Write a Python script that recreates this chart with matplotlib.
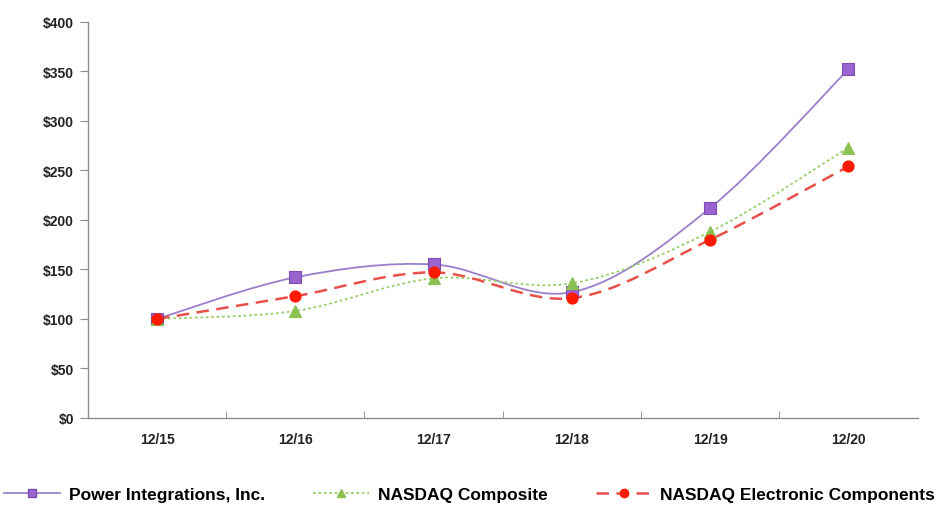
import matplotlib
matplotlib.use("Agg")
import matplotlib.pyplot as plt
from matplotlib.path import Path
from matplotlib.patches import PathPatch
from matplotlib.lines import Line2D
from matplotlib.ticker import MultipleLocator, FuncFormatter

# data
years = ["12/15", "12/16", "12/17", "12/18", "12/19", "12/20"]
power_integrations = [100, 142, 155, 127, 212, 352]
nasdaq_composite = [100, 108, 141, 136, 188, 273]
nasdaq_electronic = [100, 123, 147, 121, 180, 254]

plt.rcParams["font.family"] = ["Liberation Sans Narrow", "Liberation Sans", "DejaVu Sans"]


def smooth_path(xs, ys):
    """Excel-like smoothed line as cubic Bezier segments."""
    pts = list(zip(xs, ys))
    verts = [pts[0]]
    codes = [Path.MOVETO]
    n = len(pts)
    for i in range(n - 1):
        p0 = pts[i - 1] if i > 0 else pts[i]
        p1 = pts[i]
        p2 = pts[i + 1]
        p3 = pts[i + 2] if i + 2 < n else pts[i + 1]
        c1 = (p1[0] + (p2[0] - p0[0]) / 6, p1[1] + (p2[1] - p0[1]) / 6)
        c2 = (p2[0] - (p3[0] - p1[0]) / 6, p2[1] - (p3[1] - p1[1]) / 6)
        verts += [c1, c2, p2]
        codes += [Path.CURVE4] * 3
    return Path(verts, codes)


series = [
    ("Power Integrations, Inc.", power_integrations, "#9B7FCB", "-", 1.3,
     "s", "#9A63CF", "#7A4FB0", 8),
    ("NASDAQ Composite", nasdaq_composite, "#9ACD6A", (0, (1.5, 1.5)), 1.3,
     "^", "#8CC152", "#8CC152", 8),
    ("NASDAQ Electronic Components", nasdaq_electronic, "#E8504A", (0, (5, 3)), 1.8,
     "o", "#FF1A00", "#FF1A00", 8),
]

fig = plt.figure(figsize=(9.45, 5.06), dpi=100)
ax = fig.add_axes([0.093, 0.172, 0.878, 0.783])

x = list(range(len(years)))
handles = []
for label, vals, lc, ls, lw, mk, mfc, mec, ms in series:
    patch = PathPatch(smooth_path(x, vals), facecolor="none", edgecolor=lc,
                      linestyle=ls, linewidth=lw, zorder=2)
    ax.add_patch(patch)
    ax.plot(x, vals, linestyle="none", marker=mk, markersize=ms,
            markerfacecolor=mfc, markeredgecolor=mec, markeredgewidth=0.8, zorder=3)
    handles.append(Line2D([], [], color=lc, linestyle=ls, linewidth=lw, marker=mk,
                          markersize=6, markerfacecolor=mfc, markeredgecolor=mec))

ax.set_xlim(-0.5, len(years) - 0.5)
ax.set_ylim(0, 400)
ax.set_xticks(x)
ax.set_xticklabels(years)
ax.set_xticks([i + 0.5 for i in range(len(years) - 1)], minor=True)
ax.yaxis.set_major_locator(MultipleLocator(50))
ax.yaxis.set_major_formatter(FuncFormatter(lambda v, p: f"${v:.0f}"))

for sp in ["top", "right"]:
    ax.spines[sp].set_visible(False)
for sp in ["left", "bottom"]:
    ax.spines[sp].set_color("#8c8c8c")
    ax.spines[sp].set_linewidth(1.0)

ax.tick_params(axis="x", which="major", length=0, pad=10)
ax.tick_params(axis="x", which="minor", direction="in", length=5, color="#8c8c8c")
ax.tick_params(axis="y", direction="out", length=6, color="#8c8c8c", pad=4)
for t in ax.get_xticklabels() + ax.get_yticklabels():
    t.set_fontweight("bold")
    t.set_fontsize(10)
    t.set_color("#222222")

fig.legend(handles=handles, labels=[s[0] for s in series], loc="lower center",
           bbox_to_anchor=(0.497, -0.025), ncol=3, frameon=False, handlelength=3.2,
           columnspacing=2.8, handletextpad=0.5,
           prop={"weight": "bold", "size": 12.5})

fig.savefig("out.png", dpi=100)
